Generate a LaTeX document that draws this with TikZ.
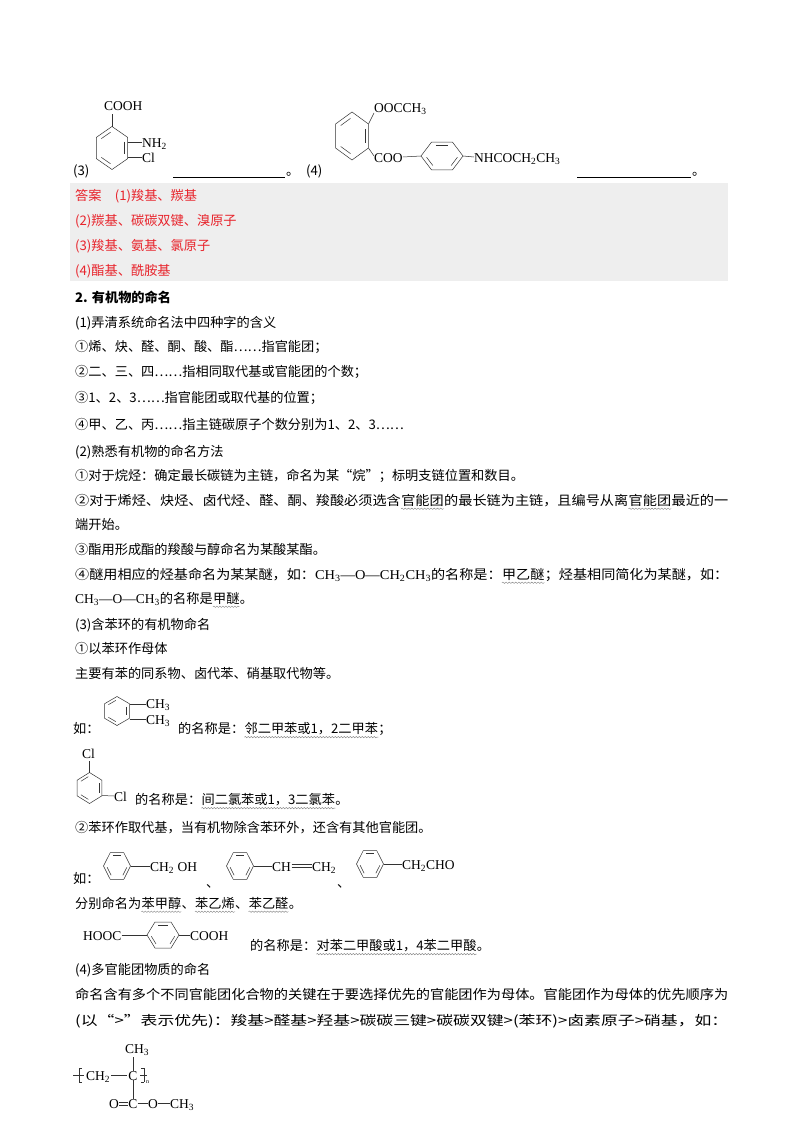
\documentclass[tikz,border=0pt]{standalone}
\usepackage{fontspec}
\usepackage{graphicx}
\setmainfont{Noto Sans CJK SC}
\newfontfamily\chemf{Liberation Serif}
\usetikzlibrary{calc,decorations.pathmorphing}
\definecolor{ansred}{HTML}{E8242C}
\definecolor{boxgray}{HTML}{EEEEEE}
\newcommand\fs{\fontsize{13.2}{15}\selectfont}
\newcommand\cf{\chemf\fontsize{13.5}{15}\selectfont}
\newcommand\ch[1]{{\chemf\fontsize{13.5}{15}\selectfont #1}}
\newcommand\wu[1]{\tikz[baseline=(w.base)]{\node[inner sep=0pt](w){#1};\draw[line width=0.4pt,gray,decorate,decoration={snake,amplitude=0.7pt,segment length=3pt}] ([yshift=-2.5pt]w.south west) -- ([yshift=-2.5pt]w.south east);}}
\newcommand\full[1]{\resizebox{653pt}{\height}{#1}}
\newcommand\ring[5]{%
\begin{scope}[shift={(#1,#2)},xscale=#3,yscale=#4]
\draw[bond] (#5:1) -- (#5+60:1) -- (#5+120:1) -- (#5+180:1) -- (#5+240:1) -- (#5+300:1) -- cycle;
\foreach \a in {0,2,4}{\draw[bond] ($(#5+60*\a:0.78)!0.12!(#5+60*\a+60:0.78)$) -- ($(#5+60*\a:0.78)!0.88!(#5+60*\a+60:0.78)$);}
\end{scope}}
\begin{document}
\begin{tikzpicture}[x=1pt,y=-1pt,
  txt/.style={anchor=base west,inner sep=0pt,font=\fs},
  ans/.style={txt,text=ansred},
  lab/.style={anchor=base west,inner sep=0pt,font=\cf},
  bond/.style={line width=0.5pt,black!80}]
\useasboundingbox (0,0) rectangle (800,1132);
\fill[white] (0,0) rectangle (800,1132);
% ---------- structure (3)
\node[txt] (n3) at (73,175) {(3)};
\ring{112}{148}{17.9}{21.5}{90}
\node[lab] (cooh) at (104,110) {COOH};
\draw[bond] (112,126.5) -- (112,114);
\node[lab] (nh2) at (142,147) {NH\textsubscript{2}};
\node[lab] (cl3) at (142,162) {Cl};
\draw[bond] (127.5,142) -- (nh2.west |- 0,142);
\draw[bond] (127.5,157) -- (cl3.west |- 0,157);
\coordinate (b3a) at (173,177); \coordinate (b3b) at (285,177);
\draw[line width=0.6pt] (b3a) -- (b3b);
\node[txt] (p3) at (286,175) {。};
% ---------- structure (4)
\node[txt] (n4) at (306,175) {(4)};
\ring{352}{136}{19}{24}{90}
\node[lab] (ooc) at (374,112) {OOCCH\textsubscript{3}};
\draw[bond] (368.5,124) -- (374,113);
\node[lab] (coo) at (374,162) {COO};
\draw[bond] (368.5,148) -- (374,156);
\ring{442}{156}{21}{16}{0}
\draw[bond] (coo.east |- 0,157) -- (421,156);
\node[lab] (nhco) at (474,162) {NHCOCH\textsubscript{2}CH\textsubscript{3}};
\draw[bond] (463,156) -- (nhco.west |- 0,157);
\coordinate (b4a) at (577,177); \coordinate (b4b) at (691,177);
\draw[line width=0.6pt] (b4a) -- (b4b);
\node[txt] (p4) at (692,175) {。};
% ---------- answer box
\fill[boxgray] (70,183) rectangle (728,281);
\node[ans] (a1) at (75,200) {答案\quad (1)羧基、羰基};
\node[ans] (a2) at (75,225) {(2)羰基、碳碳双键、溴原子};
\node[ans] (a3) at (75,250) {(3)羧基、氨基、氯原子};
\node[ans] (a4) at (75,275) {(4)酯基、酰胺基};
% ---------- text
\node[txt,font=\fs\bfseries] (t1) at (75,302) {2. 有机物的命名};
\node[txt] (t2) at (75,327) {(1)弄清系统命名法中四种字的含义};
\node[txt] (t3) at (75,351) {①烯、炔、醛、酮、酸、酯……指官能团；};
\node[txt] (t4) at (75,376) {②二、三、四……指相同取代基或官能团的个数；};
\node[txt] (t5) at (75,402) {③1、2、3……指官能团或取代基的位置；};
\node[txt] (t6) at (75,429) {④甲、乙、丙……指主链碳原子个数分别为1、2、3……};
\node[txt] (t7) at (75,456) {(2)熟悉有机物的命名方法};
\node[txt] (t8) at (75,480) {①对于烷烃：确定最长碳链为主链，命名为某“烷”；标明支链位置和数目。};
\node[txt] (t9) at (75,505) {\full{②对于烯烃、炔烃、卤代烃、醛、酮、羧酸必须选含\wu{官能团}的最长链为主链，且编号从离\wu{官能团}最近的一}};
\node[txt] (t10) at (75,529) {端开始。};
\node[txt] (t11) at (75,554) {③酯用形成酯的羧酸与醇命名为某酸某酯。};
\node[txt] (t12) at (75,579) {\full{④醚用相应的烃基命名为某某醚，如：\ch{CH\textsubscript{3}—O—CH\textsubscript{2}CH\textsubscript{3}}的名称是：\wu{甲乙醚}；烃基相同简化为某醚，如：}};
\node[txt] (t13) at (75,603) {\ch{CH\textsubscript{3}—O—CH\textsubscript{3}}的名称是\wu{甲醚}。};
\node[txt] (t14) at (75,629) {(3)含苯环的有机物命名};
\node[txt] (t15) at (75,653) {①以苯环作母体};
\node[txt] (t16) at (75,678) {主要有苯的同系物、卤代苯、硝基取代物等。};
% o-xylene
\node[txt] (t17) at (73,733) {如：};
\ring{117}{711}{14.4}{14.5}{90}
\node[lab] (m1) at (146,708) {CH\textsubscript{3}};
\node[lab] (m2) at (146,724) {CH\textsubscript{3}};
\draw[bond] (129.5,704) -- (m1.west |- 0,704);
\draw[bond] (129.5,719) -- (m2.west |- 0,719);
\node[txt] (t18) at (178,733) {的名称是：\wu{邻二甲苯或1，2二甲苯}；};
% m-dichlorobenzene
\node[lab] (c1) at (82,758) {Cl};
\ring{89.5}{788}{14.4}{15.5}{90}
\draw[bond] (89.5,772.5) -- (89.5,761);
\node[lab] (c2) at (114,801) {Cl};
\draw[bond] (102,795.5) -- (c2.west |- 0,796);
\node[txt] (t19) at (135,804) {的名称是：\wu{间二氯苯或1，3二氯苯}。};
\node[txt] (t20) at (75,832) {②苯环作取代基，当有机物除含苯环外，还含有其他官能团。};
% three compounds
\node[txt] (t21) at (73,883) {如：};
\ring{117}{866}{13.5}{15.5}{0}
\node[lab] (s1) at (150,871) {CH\textsubscript{2} OH};
\draw[bond] (130.5,866) -- (s1.west |- 0,866);
\node[txt] (d1) at (206,887) {、};
\ring{240}{866}{13.5}{15.5}{0}
\node[lab] (s2) at (272,871) {CH};
\node[lab] (s3) at (312,871) {CH\textsubscript{2}};
\draw[bond] (253.5,866) -- (s2.west |- 0,866);
\draw[bond] ([xshift=0.5pt]s2.east |- 0,864.5) -- ([xshift=-0.5pt]s3.west |- 0,864.5);
\draw[bond] ([xshift=0.5pt]s2.east |- 0,867.5) -- ([xshift=-0.5pt]s3.west |- 0,867.5);
\node[txt] (d2) at (337,887) {、};
\ring{370}{864}{13.5}{15.5}{0}
\node[lab] (s4) at (402,869) {CH\textsubscript{2}CHO};
\draw[bond] (383.5,864) -- (s4.west |- 0,864);
\node[txt] (t22) at (75,908) {分别命名为\wu{苯甲醇}、\wu{苯乙烯}、\wu{苯乙醛}。};
% terephthalic acid
\node[lab] (h1) at (83,940) {HOOC};
\ring{163}{935}{16}{15}{0}
\draw[bond] (h1.east |- 0,935) -- (147,935);
\node[lab] (h2) at (190,940) {COOH};
\draw[bond] (179,935) -- (h2.west |- 0,935);
\node[txt] (t23) at (250,950) {的名称是：\wu{对苯二甲酸或1，4苯二甲酸}。};
\node[txt] (t24) at (75,974) {(4)多官能团物质的命名};
\node[txt] (t25) at (75,999) {\full{命名含有多个不同官能团化合物的关键在于要选择优先的官能团作为母体。官能团作为母体的优先顺序为}};
\node[txt] (t26) at (75,1025) {\full{(以“>”表示优先)：羧基>醛基>羟基>碳碳三键>碳碳双键>(苯环)>卤素原子>硝基，如：}};
% polymer
\node[lab,anchor=base] (pm) at (137,1053) {CH\textsubscript{3}};
\node[lab,anchor=base] (pc) at (133,1080) {C};
\node[lab,anchor=base west] (pch) at (86,1080) {CH\textsubscript{2}};
\draw[bond] ([xshift=1pt]pch.east |- 0,1075) -- ([xshift=-1pt]pc.west |- 0,1075);
\draw[bond] (133,1057) -- (pc.north);
\node[lab,anchor=base] (ec) at (133,1108) {C};
\draw[bond] (pc.south) -- (ec.north);
\node[lab,anchor=base east] (eo1) at (119,1108) {O};
\draw[bond] (eo1.east |- 0,1102) -- (ec.west |- 0,1102);
\draw[bond] (eo1.east |- 0,1105) -- (ec.west |- 0,1105);
\node[lab,anchor=base west] (eo2) at (148,1108) {O};
\draw[bond] (ec.east |- 0,1103.5) -- (eo2.west |- 0,1103.5);
\node[lab,anchor=base west] (ech) at (170,1108) {CH\textsubscript{3}};
\draw[bond] (eo2.east |- 0,1103.5) -- (ech.west |- 0,1103.5);
\draw[bond] (73,1075) -- (84,1075);
\draw[bond] (79,1068) -- (79,1082) (79,1068) -- (82,1068) (79,1082) -- (82,1082);
\draw[bond] (140,1075) -- (147,1075);
\draw[bond] (144,1068) -- (144,1082) (144,1068) -- (141,1068) (144,1082) -- (141,1082);
\node[lab,font=\chemf\fontsize{6}{7}\selectfont] (nn) at (146,1083) {n};
\end{tikzpicture}
\end{document}
